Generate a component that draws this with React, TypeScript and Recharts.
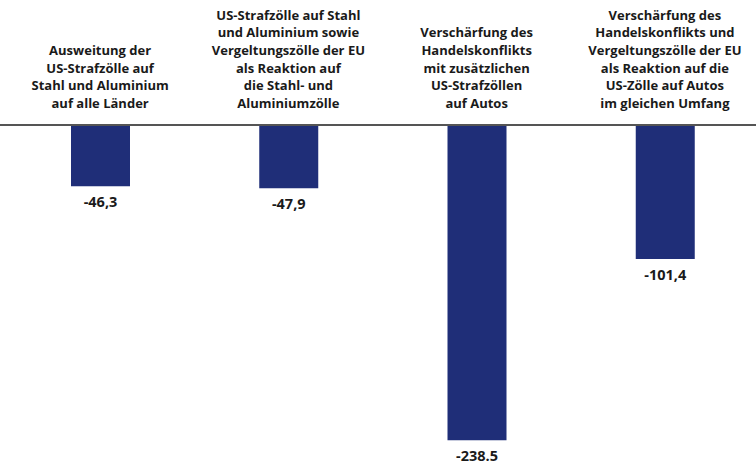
import { BarChart, Bar, XAxis, YAxis, LabelList } from 'recharts'

const categories = [
    'Ausweitung der|US-Strafzölle auf|Stahl und Aluminium|auf alle Länder',
    'US-Strafzölle auf Stahl|und Aluminium sowie|Vergeltungszölle der EU|als Reaktion auf|die Stahl- und|Aluminiumzölle',
    'Verschärfung des|Handelskonflikts|mit zusätzlichen|US-Strafzöllen|auf Autos',
    'Verschärfung des|Handelskonflikts und|Vergeltungszölle der EU|als Reaktion auf die|US-Zölle auf Autos|im gleichen Umfang',
]
const values = [-46.3, -47.9, -238.5, -101.4]
const valueLabels = ['-46,3', '-47,9', '-238.5', '-101,4']

const FONT = '"Open Sans", Lato, sans-serif'

const CategoryTick = (props: any) => {
    const { x, y, payload } = props
    const lines = String(payload.value).split('|')
    const lineHeight = 17.7
    const lastBaseline = y - 9
    return (
        <text x={x} textAnchor="middle" fontFamily={FONT} fontWeight={700} fontSize={13} fill="#1a1a1a">
            {lines.map((line, i) => (
                <tspan key={i} x={x} y={lastBaseline - (lines.length - 1 - i) * lineHeight}>{line}</tspan>
            ))}
        </text>
    )
}

const ValueLabel = (props: any) => {
    const { x, y, width, height, index } = props
    const bottom = Math.max(y, y + height)
    return (
        <text x={x + width / 2} y={bottom + 21} textAnchor="middle" fontFamily={FONT} fontWeight={700} fontSize={14.5} fill="#1a1a1a">
            {valueLabels[index]}
        </text>
    )
}

export default function App() {
    const chartData = categories.map((name, i) => ({ name, value: values[i] }))

    return (
        <div style={{ position: 'absolute', left: 0, top: 0, width: 756, height: 462, overflow: 'hidden', background: '#fff' }}>
            <BarChart width={759} height={462} data={chartData} margin={{ top: 0, right: 0, left: 0, bottom: 0 }} style={{ overflow: 'visible' }}>
                <XAxis
                    dataKey="name"
                    orientation="top"
                    height={125}
                    interval={0}
                    padding={{ left: 6, right: 0 }}
                    tickLine={false}
                    axisLine={{ stroke: '#555555', strokeWidth: 2 }}
                    tick={<CategoryTick />}
                />
                <YAxis hide domain={[-255, 0]} />
                <Bar dataKey="value" fill="#1f2e78" barSize={59} isAnimationActive={false}>
                    <LabelList dataKey="value" content={<ValueLabel />} />
                </Bar>
            </BarChart>
        </div>
    )
}
